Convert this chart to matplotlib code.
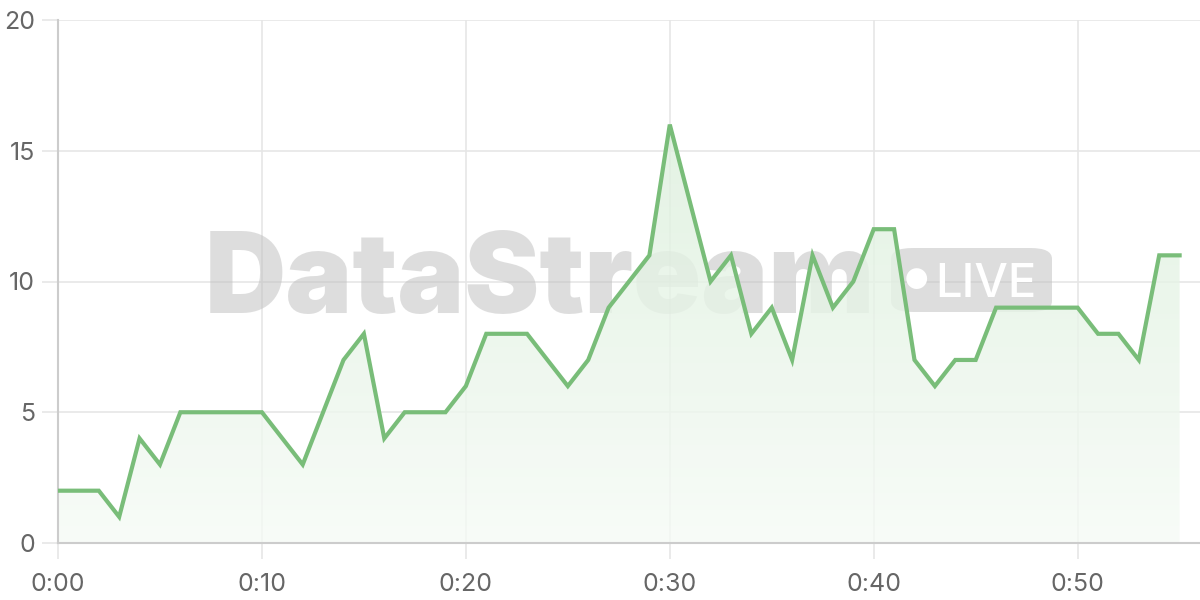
import numpy as np
import matplotlib.pyplot as plt
from matplotlib.patches import FancyBboxPatch
from matplotlib.colors import LinearSegmentedColormap

# minutes since start and the value at each minute
minutes = list(range(0, 56))
values = [2, 2, 2, 1, 4, 3, 5, 5, 5, 5,
          5, 4, 3, 5, 7, 8, 4, 5, 5, 5,
          6, 8, 8, 8, 7, 6, 7, 9, 10, 11,
          16, 13, 10, 11, 8, 9, 7, 11, 9, 10,
          12, 12, 7, 6, 7, 7, 9, 9, 9, 9,
          9, 8, 8, 7, 11, 11]
xtick_pos = [0, 10, 20, 30, 40, 50]
xtick_labels = ['0:00', '0:10', '0:20', '0:30', '0:40', '0:50']
ytick_pos = [0, 5, 10, 15, 20]

plt.rcParams['font.family'] = ['Inter', 'DejaVu Sans']

fig = plt.figure(figsize=(12, 6), dpi=100)
ax = fig.add_axes([58 / 1200, 57 / 600, 1142 / 1200, 523 / 600])
ax.set_xlim(0, 56)
ax.set_ylim(0, 20)

line_col = '#79bd79'
ft = fig.transFigure

# watermark, kept inside the axes so the line goes over it
ax.text(540 / 1200, 1 - 313 / 600, 'DataStream', transform=ft, fontsize=81,
        fontweight='black', color='#bdbdbd', alpha=0.5, ha='center',
        va='baseline', zorder=1)
badge = FancyBboxPatch((891 / 1200, 288 / 600), 161 / 1200, 64 / 600,
                       boxstyle='round,pad=0,rounding_size=0.018',
                       transform=ft, facecolor='#bdbdbd',
                       edgecolor='none', alpha=0.5, zorder=1)
ax.add_patch(badge)
ax.text(916 / 1200, 1 - 282 / 600, '\u25cf', transform=ft, fontsize=20,
        color='white', ha='center', va='center', zorder=1.5)
ax.text(986 / 1200, 1 - 297 / 600, 'LIVE', transform=ft, fontsize=34,
        fontweight='medium', color='white', ha='center', va='baseline',
        zorder=1.5)

# gradient fill under the line
poly = ax.fill_between(minutes, values, 0, color='none', zorder=2)
cmap = LinearSegmentedColormap.from_list('g', ['#f6fbf6', '#d6edd6'])
grad = np.linspace(0, 1, 256).reshape(-1, 1)
im = ax.imshow(grad, cmap=cmap, origin='lower', aspect='auto',
               extent=[0, 55, 0, 20], alpha=0.8, zorder=2)
im.set_clip_path(poly.get_paths()[0], transform=ax.transData)

ax.plot(minutes, values, color=line_col, linewidth=3, zorder=3,
        solid_joinstyle='miter')

ax.set_xticks(xtick_pos)
ax.set_xticklabels(xtick_labels)
ax.set_yticks(ytick_pos)
ax.grid(True, color='#e6e6e6', linewidth=1.2, zorder=0)
ax.set_axisbelow(True)
ax.tick_params(axis='both', length=11.5, color='#e6e6e6', width=1.2,
               labelsize=18, labelcolor='#666666')
ax.tick_params(axis='x', pad=10)
ax.tick_params(axis='y', pad=5)
for s in ['top', 'right']:
    ax.spines[s].set_visible(False)
for s in ['left', 'bottom']:
    ax.spines[s].set_color('#cccccc')
    ax.spines[s].set_linewidth(1.5)

fig.savefig('out.png', dpi=100)
